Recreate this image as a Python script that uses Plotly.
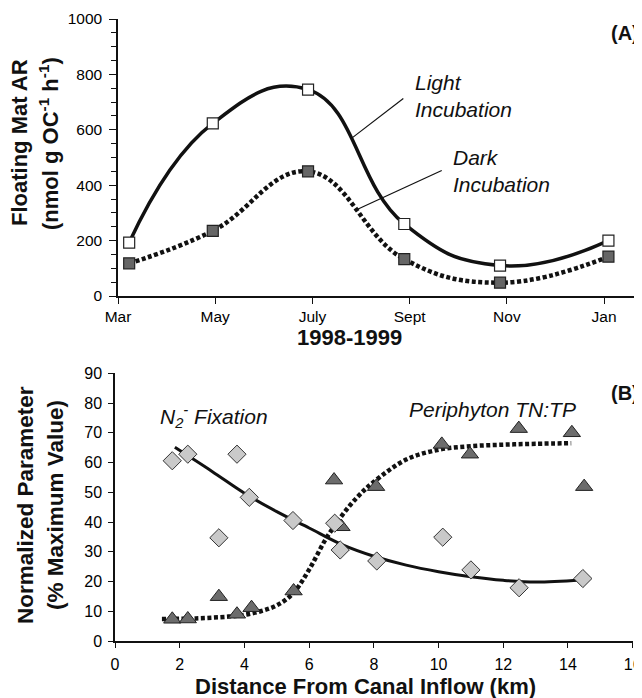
import plotly.graph_objects as go

W, H = 642, 698
OFF = 8  # page body margin in the viewer

# ---------------- Panel A data ----------------
month_tickvals = [0, 2, 4, 6, 8, 10]
month_ticktext = ["Mar", "May", "July", "Sept", "Nov", "Jan"]
sample_month = [0.23, 1.95, 3.91, 5.89, 7.86, 10.09]
light_ar = [193, 623, 745, 260, 110, 200]
dark_ar = [118, 235, 450, 133, 48, 142]

# ---------------- Panel B data ----------------
dist_n2 = [1.77, 2.25, 3.21, 3.77, 4.15, 5.5, 6.79, 6.96, 8.09, 10.13, 11.0, 12.49, 14.46]
n2_fix = [60.6, 62.8, 34.7, 62.8, 48.3, 40.5, 39.6, 30.6, 26.9, 34.9, 23.9, 17.9, 21.0]
dist_tntp = [1.77, 2.25, 3.21, 3.77, 4.22, 5.52, 6.77, 7.0, 8.07, 10.1, 10.97, 12.48, 14.12, 14.5]
tntp = [7.3, 7.4, 14.9, 9.0, 11.2, 16.8, 54.1, 38.4, 51.9, 66.1, 62.8, 71.4, 70.0, 51.9]

# trend curves
n2_fit_x = [1.85, 3, 4, 5, 6, 7, 8, 9, 10, 11, 12, 13, 14.4]
n2_fit_y = [65.1, 57.0, 49.7, 43.5, 38.0, 32.5, 28.5, 25.5, 23.3, 21.6, 20.4, 19.8, 20.5]
tntp_fit_x = [1.45, 2.5, 3.5, 4, 4.5, 5, 5.5, 6, 6.5, 7, 7.5, 8, 9, 10, 11, 12, 13, 14.1]
tntp_fit_y = [7.4, 7.6, 8.2, 8.8, 10.0, 12.0, 16.0, 24.0, 34.0, 42.0, 48.5, 53.5, 61.0, 64.3, 65.5, 66.0, 66.3, 66.5]

FONT = "Liberation Sans, Arial, Helvetica, sans-serif"
INK = "#111111"


def px(x):
    return (x - OFF) / W


def py(y):
    return 1 - (y - OFF) / H


fig = go.Figure()

# Panel A lines + markers
fig.add_trace(go.Scatter(
    x=sample_month, y=dark_ar, mode="lines", xaxis="x", yaxis="y",
    line=dict(color=INK, width=4.5, dash="4px,2.5px", shape="spline", smoothing=1.2),
    hoverinfo="skip"))
fig.add_trace(go.Scatter(
    x=sample_month, y=light_ar, mode="lines", xaxis="x", yaxis="y",
    line=dict(color=INK, width=3.5, shape="spline", smoothing=1.3),
    hoverinfo="skip"))
fig.add_trace(go.Scatter(
    x=sample_month, y=dark_ar, mode="markers", xaxis="x", yaxis="y",
    marker=dict(symbol="square", size=11, color="#666666", line=dict(color="#222222", width=1.2))))
fig.add_trace(go.Scatter(
    x=sample_month, y=light_ar, mode="markers", xaxis="x", yaxis="y",
    marker=dict(symbol="square", size=11, color="white", line=dict(color="#222222", width=1.2))))

# Panel B
fig.add_trace(go.Scatter(
    x=tntp_fit_x, y=tntp_fit_y, mode="lines", xaxis="x2", yaxis="y2",
    line=dict(color=INK, width=4.5, dash="4px,2.5px", shape="spline", smoothing=1.0),
    hoverinfo="skip"))
fig.add_trace(go.Scatter(
    x=n2_fit_x, y=n2_fit_y, mode="lines", xaxis="x2", yaxis="y2",
    line=dict(color=INK, width=3, shape="spline", smoothing=1.0),
    hoverinfo="skip"))
fig.add_trace(go.Scatter(
    x=dist_tntp, y=tntp, mode="markers", xaxis="x2", yaxis="y2",
    marker=dict(symbol="triangle-up", size=15, color="#6c6c6c", line=dict(color="#222222", width=1))))
fig.add_trace(go.Scatter(
    x=dist_n2, y=n2_fix, mode="markers", xaxis="x2", yaxis="y2",
    marker=dict(symbol="diamond", size=14, color="#c9c9c9", line=dict(color="#333333", width=1))))

axis_common = dict(showgrid=False, zeroline=False, showline=True, linecolor=INK, linewidth=1.5,
                   ticks="outside", tickcolor=INK, tickwidth=1.2, mirror=False, automargin=False,
                   tickfont=dict(family=FONT, size=15.5, color="#000000"))

fig.update_layout(
    width=W, height=H, margin=dict(l=0, r=0, t=0, b=0, pad=0, autoexpand=False),
    paper_bgcolor="white", plot_bgcolor="white", showlegend=False,
    font=dict(family=FONT, color=INK),
    xaxis=dict(domain=[px(118), px(641)], range=[0, 10.76], tickvals=month_tickvals,
               ticktext=month_ticktext, ticklen=6, anchor="y", **axis_common),
    yaxis=dict(domain=[py(296), py(19)], range=[0, 1000], tickvals=[0, 200, 400, 600, 800, 1000],
               ticklen=7, anchor="x", ticklabelstandoff=4,
               minor=dict(dtick=50, ticks="outside", ticklen=5, tickcolor=INK, tickwidth=1.2),
               **axis_common),
    xaxis2=dict(domain=[px(115), px(632.7)], range=[0, 16], dtick=2, ticklen=5, anchor="y2",
                ticklabelstandoff=3, **{**axis_common, "tickfont": dict(family=FONT, size=16, color="#000000")}),
    yaxis2=dict(domain=[py(641), py(373.3)], range=[0, 90], dtick=10, ticklen=5, anchor="x2",
                ticklabelstandoff=3,
                **{**axis_common, "tickfont": dict(family=FONT, size=16, color="#000000")}),
)

shape_line = dict(color=INK, width=1.2)
fig.add_shape(type="line", xref="x", yref="y", x0=4.81, y0=570, x1=5.87, y1=713, line=shape_line)
fig.add_shape(type="line", xref="x", yref="y", x0=4.94, y0=314, x1=6.66, y1=453, line=shape_line)

ann = []


def add_text(text, x, y, size, bold=False, italic=False, xanchor="center", yanchor="middle",
             angle=0, align="center"):
    t = text
    if bold:
        t = "<b>" + t + "</b>"
    if italic:
        t = "<i>" + t + "</i>"
    ann.append(dict(text=t, x=px(x), y=py(y), xref="paper", yref="paper", showarrow=False,
                    xanchor=xanchor, yanchor=yanchor, textangle=angle, align=align,
                    font=dict(family=FONT, size=size, color=INK)))


# panel labels
add_text("(A)", 641, 33.5, 20, bold=True, xanchor="right")
add_text("(B)", 641, 393, 20, bold=True, xanchor="right")

# curve labels panel A
add_text("Light<br>Incubation", 413, 96, 21, italic=True, xanchor="left", align="left")
add_text("Dark<br>Incubation", 451, 171, 21, italic=True, xanchor="left", align="left")

# curve labels panel B
add_text("N<sub>2</sub><sup>-</sup> Fixation", 158, 416, 21, italic=True, xanchor="left")
add_text("Periphyton TN:TP", 578, 409, 21, italic=True, xanchor="right")

# axis titles
add_text("1998-1999", 349, 337, 22, bold=True)
add_text("Distance From Canal Inflow (km)", 365, 686, 22, bold=True)
add_text("Floating Mat AR", 20, 143, 22, bold=True, angle=-90)
add_text("(nmol g OC<sup>-1</sup> h<sup>-1</sup>)", 49, 143, 22, bold=True, angle=-90)
add_text("Normalized Parameter", 25, 505, 22.5, bold=True, angle=-90)
add_text("(% Maximum Value)", 55, 505, 22.5, bold=True, angle=-90)

fig.update_layout(annotations=ann)

fig.write_html("out.html")
